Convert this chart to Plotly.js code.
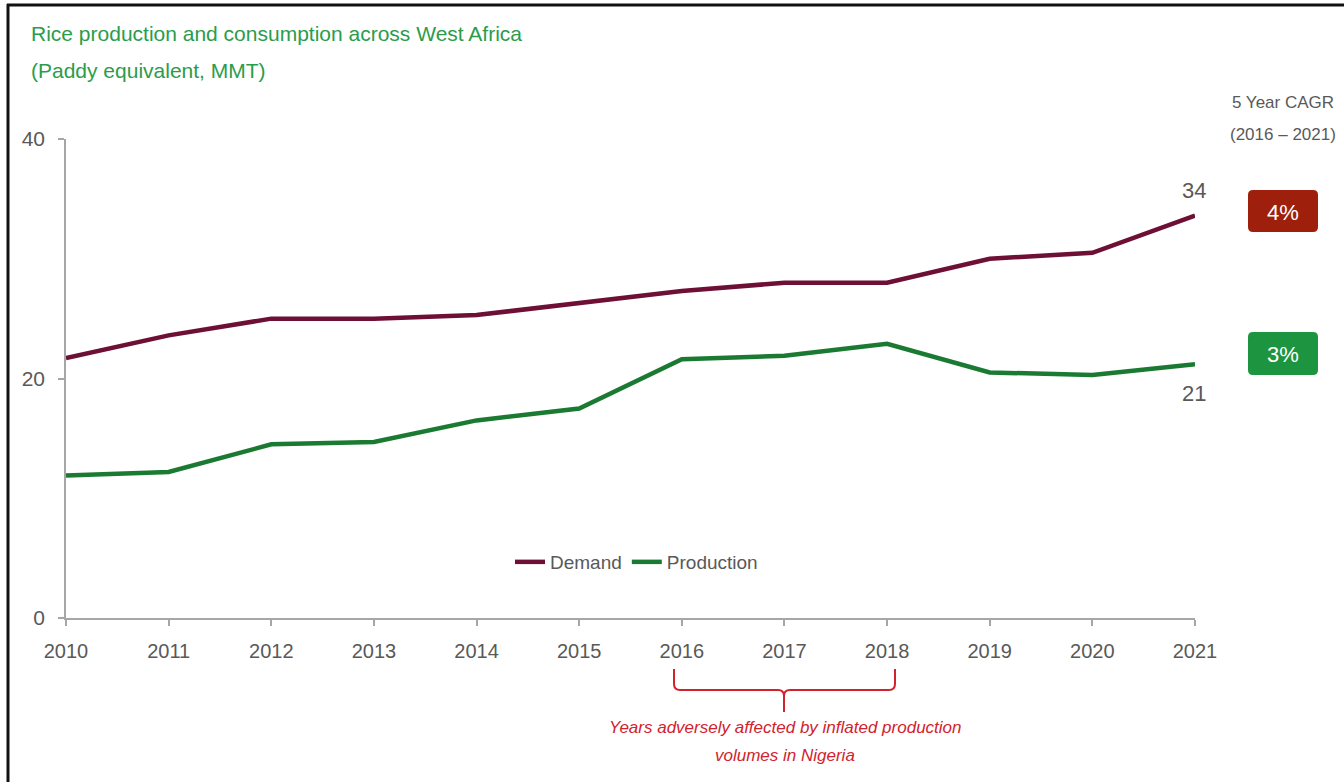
<!DOCTYPE html>
<html>
<head>
<meta charset="utf-8">
<script src="https://cdn.plot.ly/plotly-3.0.1.min.js"></script>
<style>
  html, body { margin: 0; padding: 0; background: #ffffff; }
  #chart { width: 1344px; height: 782px; }
</style>
</head>
<body>
<div id="chart"></div>
<script>
// ---- data ----
const years = [2010, 2011, 2012, 2013, 2014, 2015, 2016, 2017, 2018, 2019, 2020, 2021];
const demand = [21.7, 23.6, 25.0, 25.0, 25.3, 26.3, 27.3, 28.0, 28.0, 30.0, 30.5, 33.6];
const production = [11.9, 12.2, 14.5, 14.7, 16.5, 17.5, 21.6, 21.9, 22.9, 20.5, 20.3, 21.2];
const seriesNames = ["Demand", "Production"];
const endLabels = ["34", "21"];
const cagrLabels = ["4%", "3%"];
const titleLines = ["Rice production and consumption across West Africa", "(Paddy equivalent, MMT)"];
const cagrHeader = ["5 Year CAGR", "(2016 \u2013 2021)"];
const noteLines = ["Years adversely affected by inflated production", "volumes in Nigeria"];

// ---- layout helpers (pixel -> paper) ----
const L = 66, R = 1195, B = 618, T = 139;
const W = 1344, H = 782;
const px = x => (x - L) / (R - L);
const py = y => (B - y) / (B - T);

const FONT = "'Liberation Sans Narrow', 'Arial Narrow', 'Liberation Sans', Arial, sans-serif";
const GRAY = "#595959";
const DEMAND_C = "#6e0f36";
const PROD_C = "#1b7a32";

function pathFrom(cmds) {
  return cmds.map(c => {
    const l = c[0];
    const pts = [];
    for (let i = 1; i < c.length; i += 2) pts.push(px(c[i]).toFixed(5) + "," + py(c[i + 1]).toFixed(5));
    return l + pts.join(" ");
  }).join(" ");
}

function roundRect(x0, y0, x1, y1, r) {
  return pathFrom([
    ["M", x0 + r, y0], ["L", x1 - r, y0], ["Q", x1, y0, x1, y0 + r],
    ["L", x1, y1 - r], ["Q", x1, y1, x1 - r, y1], ["L", x0 + r, y1],
    ["Q", x0, y1, x0, y1 - r], ["L", x0, y0 + r], ["Q", x0, y0, x0 + r, y0]
  ]) + " Z";
}

const traces = [
  { x: years, y: demand, name: seriesNames[0], type: "scatter", mode: "lines",
    line: { color: DEMAND_C, width: 4.5 }, hoverinfo: "x+y" },
  { x: years, y: production, name: seriesNames[1], type: "scatter", mode: "lines",
    line: { color: PROD_C, width: 4.5 }, hoverinfo: "x+y" }
];

const annotations = [
  { xref: "paper", yref: "paper", x: px(29), y: py(34), xanchor: "left", yanchor: "middle",
    text: titleLines[0], showarrow: false, font: { family: FONT, size: 21, color: "#2b9c4a" } },
  { xref: "paper", yref: "paper", x: px(29), y: py(70), xanchor: "left", yanchor: "middle",
    text: titleLines[1], showarrow: false, font: { family: FONT, size: 21, color: "#2b9c4a" } },
  { xref: "paper", yref: "paper", x: px(1283), y: py(103), xanchor: "center", yanchor: "middle",
    text: cagrHeader[0], showarrow: false, font: { family: FONT, size: 17, color: GRAY } },
  { xref: "paper", yref: "paper", x: px(1283), y: py(134), xanchor: "center", yanchor: "middle",
    text: cagrHeader[1], showarrow: false, font: { family: FONT, size: 17, color: GRAY } },
  { xref: "paper", yref: "paper", x: px(1194), y: py(190), xanchor: "center", yanchor: "middle",
    text: endLabels[0], showarrow: false, font: { family: FONT, size: 22, color: GRAY } },
  { xref: "paper", yref: "paper", x: px(1194), y: py(393), xanchor: "center", yanchor: "middle",
    text: endLabels[1], showarrow: false, font: { family: FONT, size: 22, color: GRAY } },
  { xref: "paper", yref: "paper", x: px(1283), y: py(212), xanchor: "center", yanchor: "middle",
    text: cagrLabels[0], showarrow: false, font: { family: FONT, size: 22, color: "#ffffff" } },
  { xref: "paper", yref: "paper", x: px(1283), y: py(354), xanchor: "center", yanchor: "middle",
    text: cagrLabels[1], showarrow: false, font: { family: FONT, size: 22, color: "#ffffff" } },
  { xref: "paper", yref: "paper", x: px(785), y: py(727), xanchor: "center", yanchor: "middle",
    text: "<i>" + noteLines[0] + "</i>", showarrow: false, font: { family: FONT, size: 17, color: "#d2222f" } },
  { xref: "paper", yref: "paper", x: px(785), y: py(755), xanchor: "center", yanchor: "middle",
    text: "<i>" + noteLines[1] + "</i>", showarrow: false, font: { family: FONT, size: 17, color: "#d2222f" } }
];

const shapes = [
  // frame
  { type: "line", xref: "paper", yref: "paper", x0: px(7), x1: px(1344), y0: py(5), y1: py(5),
    line: { color: "#111111", width: 3 } },
  { type: "line", xref: "paper", yref: "paper", x0: px(8), x1: px(8), y0: py(4), y1: py(782),
    line: { color: "#111111", width: 3 } },
  // CAGR badges
  { type: "path", xref: "paper", yref: "paper", path: roundRect(1248, 190, 1318, 232, 5),
    fillcolor: "#9e200c", line: { width: 0 } },
  { type: "path", xref: "paper", yref: "paper", path: roundRect(1248, 332, 1318, 375, 5),
    fillcolor: "#1d9540", line: { width: 0 } },
  // bracket
  { type: "path", xref: "paper", yref: "paper",
    path: pathFrom([
      ["M", 674, 669], ["L", 674, 684], ["Q", 674, 690, 680, 690], ["L", 778, 690],
      ["Q", 784, 690, 784, 696], ["L", 784, 712], ["M", 784, 696], ["Q", 784, 690, 790, 690],
      ["L", 889, 690], ["Q", 895, 690, 895, 684], ["L", 895, 669]
    ]),
    line: { color: "#d2222f", width: 2 } }
];

const layout = {
  width: W, height: H,
  margin: { l: L, r: W - R, t: T, b: H - B, pad: 0 },
  paper_bgcolor: "#ffffff", plot_bgcolor: "#ffffff",
  font: { family: FONT, size: 19, color: GRAY },
  showlegend: true,
  legend: { orientation: "h", x: px(510), y: py(562), xanchor: "left", yanchor: "middle",
    font: { family: FONT, size: 19, color: GRAY }, bgcolor: "rgba(0,0,0,0)", itemwidth: 30 },
  xaxis: {
    range: [2010, 2021], tickmode: "array", tickvals: years, ticktext: years.map(String),
    showgrid: false, zeroline: false, showline: true, linecolor: "#a6a6a6", linewidth: 1.5,
    ticks: "outside", ticklen: 6, tickcolor: "#a6a6a6", tickwidth: 1.5, ticklabelstandoff: 8,
    tickfont: { family: FONT, size: 20, color: GRAY }, fixedrange: true
  },
  yaxis: {
    range: [0, 40], tickmode: "array", tickvals: [0, 20, 40],
    showgrid: false, zeroline: false, showline: true, linecolor: "#a6a6a6", linewidth: 1.5,
    ticks: "outside", ticklen: 6, tickcolor: "#a6a6a6", tickwidth: 1.5, ticklabelstandoff: 9,
    tickfont: { family: FONT, size: 21, color: GRAY }, fixedrange: true
  },
  annotations: annotations,
  shapes: shapes
};

Plotly.newPlot("chart", traces, layout, { displayModeBar: false });
</script>
</body>
</html>
